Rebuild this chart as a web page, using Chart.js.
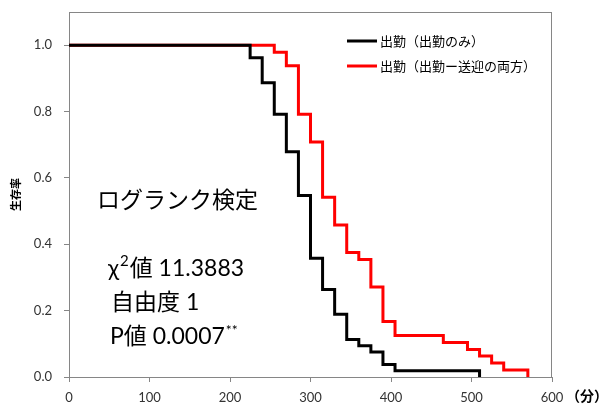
<!DOCTYPE html>
<html>
<head>
<meta charset="utf-8">
<script src="https://cdn.jsdelivr.net/npm/chart.js@4/dist/chart.umd.min.js"></script>
<style>
  html, body { margin: 0; padding: 0; background: #fff; }
  #wrap { width: 606px; height: 406px; }
</style>
</head>
<body>
<div id="wrap"><canvas id="myChart" width="606" height="406"></canvas></div>
<script>
// Kaplan-Meier survival, minutes vs. survival rate
var minutesOnly = [0, 225, 240, 255, 270, 285, 300, 315, 330, 345, 360, 375, 390, 405, 510];
var survivalOnly = [1, 0.962, 0.887, 0.792, 0.679, 0.547, 0.358, 0.264, 0.189, 0.113, 0.094, 0.075, 0.038, 0.019, 0];

var minutesBoth = [0, 255, 270, 285, 300, 315, 330, 345, 360, 375, 390, 405, 465, 495, 510, 525, 540, 570];
var survivalBoth = [1, 0.979, 0.938, 0.792, 0.708, 0.542, 0.458, 0.375, 0.354, 0.271, 0.167, 0.125, 0.104, 0.083, 0.063, 0.042, 0.021, 0];

var seriesLabels = ['出勤（出勤のみ）', '出勤（出勤ー送迎の両方）'];
var seriesColors = ['#000000', '#ff0000'];

var yTitle = '生存率';
var xUnit = '（分）';
var testTitle = 'ログランク検定';
var chiValue = '11.3883';
var dof = '1';
var pValue = '0.0007';

var FONT = "Lato, 'Noto Sans', 'Noto Sans CJK JP', sans-serif";
var CJK = "'Noto Sans CJK JP', sans-serif";

function toPoints(xs, ys) {
    return xs.map(function (x, i) { return { x: x, y: ys[i] }; });
}

// box around the plot area, legend, unit label and test results
var extras = {
    id: 'extras',
    beforeDatasetsDraw: function (chart) {
        var a = chart.chartArea, ctx = chart.ctx;
        ctx.save();
        ctx.strokeStyle = '#868686';
        ctx.lineWidth = 1;
        ctx.strokeRect(a.left + 0.5, a.top + 0.5, a.right - a.left - 1, a.bottom - a.top);
        ctx.restore();
    },
    afterDraw: function (chart) {
        var ctx = chart.ctx;
        ctx.save();

        // legend
        ctx.textBaseline = 'middle';
        ctx.font = '13px ' + CJK;
        seriesLabels.forEach(function (lab, i) {
            var y = 41 + i * 25;
            ctx.strokeStyle = seriesColors[i];
            ctx.lineWidth = 3;
            ctx.beginPath();
            ctx.moveTo(347, y);
            ctx.lineTo(377, y);
            ctx.stroke();
            ctx.fillStyle = '#000';
            ctx.fillText(lab, 380, y);
        });

        // unit of the x axis
        ctx.font = 'bold 14px ' + CJK;
        ctx.fillStyle = '#000';
        ctx.fillText(xUnit, 566, 396);

        // log-rank test
        ctx.font = '23px ' + FONT;
        ctx.fillText(testTitle, 97, 201);

        var x = 108;
        ctx.fillText('χ', x, 269);
        x += ctx.measureText('χ').width + 1;
        ctx.font = '15px ' + FONT;
        ctx.fillText('2', x, 261);
        x += ctx.measureText('2').width + 1;
        ctx.font = '23px ' + FONT;
        ctx.fillText('値 ' + chiValue, x, 269);

        ctx.fillText('自由度 ' + dof, 111, 303);

        var p = 'P値 ' + pValue;
        ctx.fillText(p, 110, 337);
        var px = 110 + ctx.measureText(p).width + 1;
        ctx.font = '14px ' + FONT;
        ctx.fillText('**', px, 330);

        ctx.restore();
    }
};

var ctx = document.getElementById('myChart').getContext('2d');
var myChart = new Chart(ctx, {
    type: 'line',
    data: {
        datasets: [{
            label: seriesLabels[0],
            data: toPoints(minutesOnly, survivalOnly),
            borderColor: seriesColors[0],
            borderWidth: 3,
            stepped: 'before',
            pointRadius: 0,
            fill: false,
            clip: false
        }, {
            label: seriesLabels[1],
            data: toPoints(minutesBoth, survivalBoth),
            borderColor: seriesColors[1],
            borderWidth: 3,
            stepped: 'before',
            pointRadius: 0,
            fill: false,
            clip: false
        }]
    },
    options: {
        responsive: false,
        animation: false,
        layout: { padding: { left: 0, top: 12, right: 54, bottom: 0 } },
        plugins: {
            legend: { display: false },
            tooltip: { enabled: false }
        },
        scales: {
            x: {
                type: 'linear',
                min: 0,
                max: 600,
                afterFit: function (s) { s.height = 29; },
                grid: { drawOnChartArea: false, tickLength: 5, color: '#868686' },
                border: { color: '#868686' },
                ticks: {
                    stepSize: 100,
                    maxRotation: 0,
                    autoSkip: false,
                    padding: 8,
                    color: '#333',
                    font: { family: FONT, size: 13 }
                }
            },
            y: {
                min: 0,
                max: 1.1,
                afterFit: function (s) {
                    s.width = 69;
                    s.paddingTop = 0;
                    s.paddingBottom = 0;
                },
                grid: { drawOnChartArea: false, tickLength: 5, color: '#868686' },
                border: { color: '#868686' },
                title: {
                    display: true,
                    text: yTitle,
                    color: '#000',
                    padding: { top: 9, bottom: 0 },
                    font: { family: CJK, size: 11, weight: 'bold' }
                },
                ticks: {
                    stepSize: 0.2,
                    includeBounds: false,
                    padding: 12,
                    color: '#333',
                    font: { family: FONT, size: 13 },
                    callback: function (v) { return v.toFixed(1); }
                }
            }
        }
    },
    plugins: [extras]
});
</script>
</body>
</html>
